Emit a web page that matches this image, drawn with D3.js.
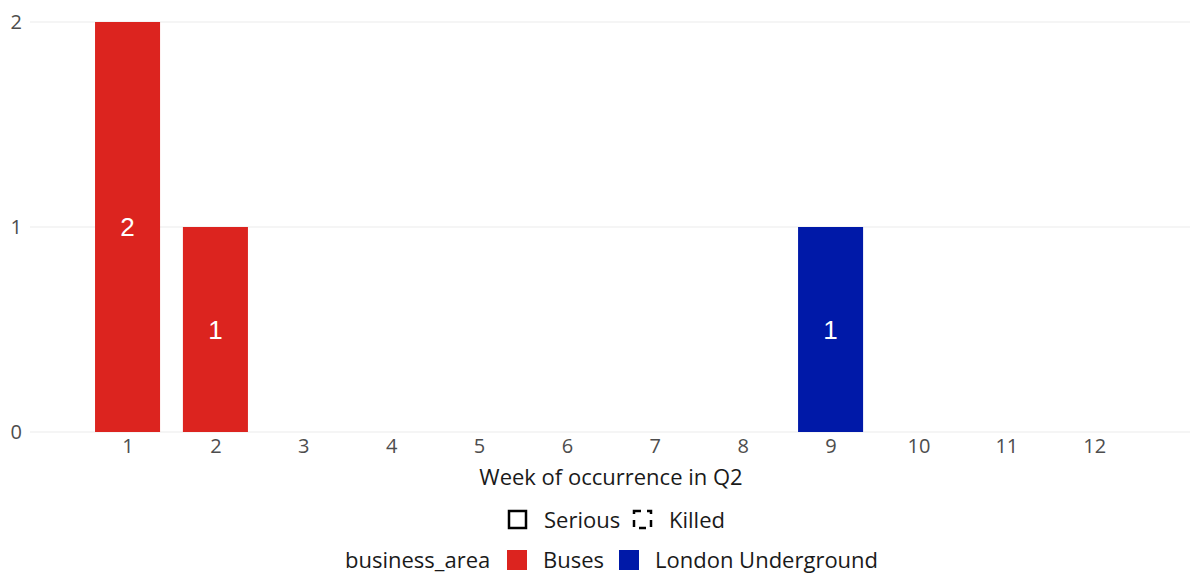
<!DOCTYPE html>
<html><head><meta charset="utf-8">
<script src="https://cdn.jsdelivr.net/npm/d3@7"></script>
<style>body{margin:0;background:#fff}svg{display:block}</style>
</head><body>
<svg id="c" width="1192" height="579"></svg>
<script>
const weeks = [1,2,3,4,5,6,7,8,9,10,11,12];
const busesSerious = [2,1,0,0,0,0,0,0,0,0,0,0];
const undergroundSerious = [0,0,0,0,0,0,0,0,1,0,0,0];
const yTicks = [0,1,2];
const areas = ["Buses","London Underground"];
const areaColors = ["#DC241F","#0019A8"];
const severities = ["Serious","Killed"];

const svg = d3.select("#c");
const font = "'Open Sans', Lato, sans-serif";
const x = d3.scaleLinear().domain([-0.11, 13.09]).range([30, 1190]);
const y = d3.scaleLinear().domain([0, 2]).range([432, 22]);
const color = d3.scaleOrdinal().domain(areas).range(areaColors);
const barW = x(0.74) - x(0);

// gridlines
svg.append("g").selectAll("line").data(yTicks).join("line")
  .attr("x1", 30).attr("x2", 1190)
  .attr("y1", d => y(d)).attr("y2", d => y(d))
  .attr("stroke", "#ebebeb").attr("stroke-width", 1.1);

// y axis labels
const yAxis = d3.axisLeft(y).tickValues(yTicks).tickFormat(d3.format("d")).tickSize(0).tickPadding(0);
const gy = svg.append("g").attr("transform", "translate(22,0)").call(yAxis);
gy.select(".domain").remove();
gy.selectAll("text").attr("font-family", font).attr("font-size", 20).attr("fill", "#4d4d4d");

// x axis labels
const xAxis = d3.axisBottom(x).tickValues(weeks).tickFormat(d3.format("d")).tickSize(0).tickPadding(0);
const gx = svg.append("g").attr("transform", "translate(0,439)").call(xAxis);
gx.select(".domain").remove();
gx.selectAll("text").attr("font-family", font).attr("font-size", 20).attr("fill", "#4d4d4d");

// bars
const rows = [];
weeks.forEach((w, i) => {
  if (busesSerious[i] > 0) rows.push({week: w, area: "Buses", value: busesSerious[i]});
  if (undergroundSerious[i] > 0) rows.push({week: w, area: "London Underground", value: undergroundSerious[i]});
});
svg.append("g").selectAll("rect").data(rows).join("rect")
  .attr("x", d => x(d.week) - barW / 2)
  .attr("width", barW)
  .attr("y", d => y(d.value))
  .attr("height", d => y(0) - y(d.value))
  .attr("fill", d => color(d.area));

svg.append("g").selectAll("text").data(rows).join("text")
  .attr("x", d => x(d.week))
  .attr("y", d => y(d.value / 2))
  .attr("dy", "0.36em")
  .attr("text-anchor", "middle")
  .attr("font-family", "'Liberation Sans', Arial, sans-serif")
  .attr("font-size", 26)
  .attr("fill", "#fff")
  .text(d => d.value);

// x title
svg.append("text").attr("x", 611).attr("y", 485).attr("text-anchor", "middle")
  .attr("font-family", font).attr("font-size", 22).attr("fill", "#1a1a1a")
  .text("Week of occurrence in Q2");

// legend 1: severity
const l1 = svg.append("g");
const sevX = [509, 634];
severities.forEach((s, i) => {
  l1.append("rect").attr("x", sevX[i]).attr("y", 511).attr("width", 17).attr("height", 17)
    .attr("fill", "none").attr("stroke", "#000").attr("stroke-width", 2.5)
    .attr("stroke-dasharray", i === 1 ? "7,6" : null);
  l1.append("text").attr("x", sevX[i] + 35).attr("y", 528)
    .attr("font-family", font).attr("font-size", 22).attr("fill", "#1a1a1a").text(s);
});

// legend 2: business_area
const l2 = svg.append("g");
l2.append("text").attr("x", 345).attr("y", 568)
  .attr("font-family", font).attr("font-size", 22).attr("fill", "#1a1a1a").text("business_area");
const areaX = [507, 619];
areas.forEach((a, i) => {
  l2.append("rect").attr("x", areaX[i]).attr("y", 550).attr("width", 20).attr("height", 20)
    .attr("fill", color(a));
  l2.append("text").attr("x", areaX[i] + 36).attr("y", 568)
    .attr("font-family", font).attr("font-size", 22).attr("fill", "#1a1a1a").text(a);
});
</script>
</body></html>
